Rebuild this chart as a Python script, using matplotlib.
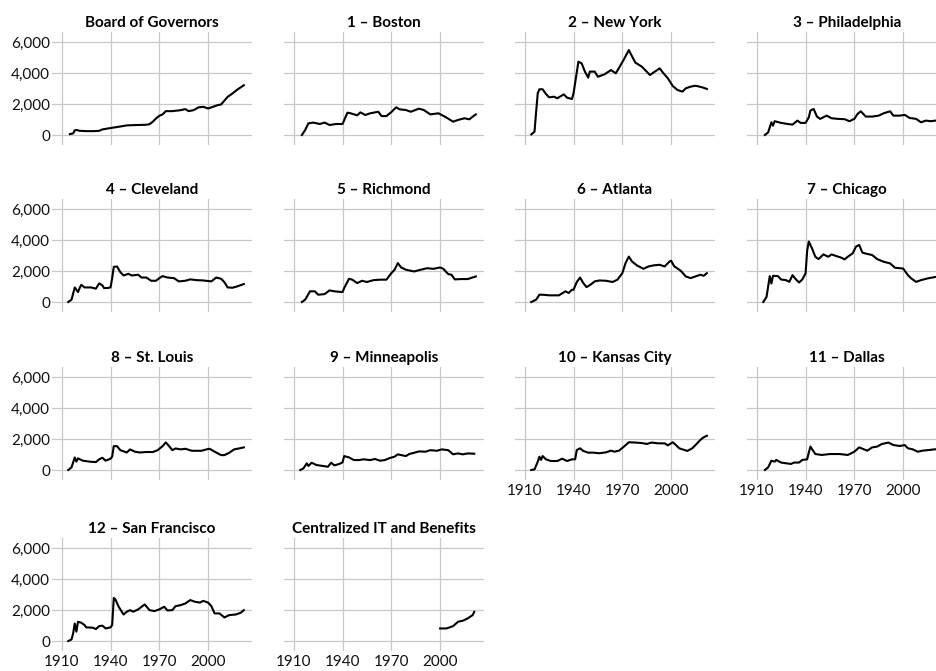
import matplotlib
matplotlib.use("Agg")
import matplotlib.pyplot as plt


# Federal Reserve employment by entity
BOARD_YEARS = [1915, 1917, 1918, 1919, 1921, 1925, 1930, 1933, 1935, 1940, 1945, 1950, 1955, 1962, 1964, 1966, 1968, 1970,
               1972, 1974, 1978, 1983, 1986, 1988, 1991, 1994, 1997, 2000, 2003, 2006, 2008, 2012, 2015, 2018, 2022]
BOARD_VALUES = [60, 100, 300, 330, 270, 250, 250, 270, 360, 450, 530, 620, 640, 660, 700, 860, 1070, 1240,
                1330, 1540, 1540, 1600, 1670, 1540, 1600, 1780, 1820, 1710, 1820, 1930, 1970, 2460, 2680, 2930, 3210]

BOSTON_YEARS = [1915, 1917, 1919, 1922, 1926, 1929, 1932, 1936, 1940, 1943, 1945, 1949, 1951, 1954, 1957, 1962, 1964,
                1967, 1970, 1973, 1975, 1979, 1982, 1987, 1990, 1994, 1999, 2003, 2008, 2011, 2015, 2018, 2020, 2022]
BOSTON_VALUES = [0, 320, 750, 800, 710, 800, 645, 710, 710, 1440, 1400, 1270, 1460, 1290, 1400, 1500, 1220,
                 1220, 1480, 1790, 1660, 1610, 1500, 1700, 1610, 1330, 1400, 1180, 860, 970, 1080, 1010, 1180, 1330]

NEW_YORK_YEARS = [1914, 1916, 1917, 1918, 1919, 1921, 1923, 1925, 1928, 1930, 1934, 1936, 1939, 1940, 1943, 1945,
                  1947, 1949, 1950, 1953, 1955, 1959, 1963, 1966, 1969, 1971, 1974, 1975, 1978, 1982, 1987, 1990,
                  1993, 1995, 1998, 2001, 2004, 2007, 2009, 2012, 2015, 2019, 2022]
NEW_YORK_VALUES = [40, 210, 1500, 2700, 2950, 2950, 2650, 2430, 2470, 2370, 2620, 2410, 2320, 2690, 4730, 4620,
                   4090, 3700, 4090, 4090, 3760, 3910, 4190, 3980, 4520, 4880, 5480, 5270, 4670, 4410, 3870, 4090,
                   4300, 4020, 3660, 3160, 2900, 2800, 3010, 3120, 3180, 3080, 2970]

PHILADELPHIA_YEARS = [1915, 1917, 1919, 1920, 1921, 1925, 1929, 1932, 1935, 1937, 1940, 1942, 1943, 1945, 1947, 1949,
                      1953, 1956, 1960, 1964, 1967, 1970, 1972, 1974, 1977, 1981, 1985, 1988, 1992, 1994, 1998, 2001,
                      2004, 2008, 2011, 2014, 2017, 2020, 2022]
PHILADELPHIA_VALUES = [0, 170, 820, 600, 890, 780, 710, 670, 930, 780, 780, 1140, 1580, 1680, 1190, 1040,
                       1250, 1080, 1040, 1020, 890, 1040, 1360, 1530, 1190, 1190, 1250, 1400, 1530, 1250, 1250, 1300,
                       1100, 1040, 820, 930, 890, 930, 900]

CLEVELAND_YEARS = [1914, 1916, 1918, 1920, 1921, 1922, 1924, 1928, 1931, 1933, 1935, 1936, 1938, 1940, 1941, 1942,
                   1944, 1946, 1948, 1951, 1953, 1957, 1959, 1962, 1965, 1968, 1970, 1972, 1975, 1979, 1982, 1986,
                   1989, 1993, 1997, 2002, 2005, 2008, 2010, 2012, 2015, 2018, 2022]
CLEVELAND_VALUES = [0, 150, 940, 640, 900, 1110, 940, 940, 860, 1200, 1070, 900, 900, 940, 1540, 2270,
                    2290, 1930, 1710, 1820, 1710, 1760, 1580, 1580, 1370, 1370, 1540, 1670, 1580, 1540, 1330, 1370,
                    1460, 1410, 1390, 1330, 1580, 1500, 1280, 940, 920, 1010, 1160]

RICHMOND_YEARS = [1915, 1917, 1920, 1923, 1925, 1929, 1932, 1935, 1940, 1941, 1944, 1946, 1949, 1952, 1955, 1959,
                  1963, 1967, 1970, 1972, 1974, 1976, 1979, 1984, 1988, 1992, 1996, 2000, 2002, 2005, 2007, 2009,
                  2013, 2017, 2022]
RICHMOND_VALUES = [0, 150, 690, 690, 470, 510, 750, 690, 640, 900, 1500, 1440, 1220, 1370, 1290, 1410,
                   1440, 1440, 1860, 2080, 2510, 2230, 2080, 1970, 2080, 2180, 2140, 2230, 2140, 1800, 1760, 1460,
                   1480, 1480, 1650]

ATLANTA_YEARS = [1914, 1917, 1919, 1921, 1925, 1931, 1935, 1937, 1939, 1940, 1942, 1944, 1946, 1948, 1951, 1953,
                 1956, 1960, 1964, 1967, 1970, 1972, 1974, 1976, 1979, 1983, 1986, 1989, 1993, 1996, 1999, 2000,
                 2002, 2003, 2006, 2009, 2012, 2015, 2018, 2020, 2022]
ATLANTA_VALUES = [0, 150, 470, 470, 430, 430, 690, 580, 790, 790, 1290, 1580, 1220, 960, 1160, 1330,
                  1390, 1370, 1290, 1440, 1860, 2510, 2930, 2610, 2360, 2140, 2290, 2360, 2400, 2290, 2610, 2660,
                  2290, 2230, 2010, 1650, 1540, 1650, 1760, 1690, 1860]

CHICAGO_YEARS = [1914, 1916, 1918, 1919, 1920, 1923, 1925, 1928, 1930, 1932, 1934, 1936, 1938, 1940, 1941, 1942,
                 1944, 1946, 1948, 1951, 1954, 1956, 1959, 1962, 1964, 1966, 1969, 1971, 1973, 1975, 1978, 1981,
                 1984, 1988, 1992, 1995, 2000, 2003, 2005, 2008, 2011, 2015, 2020, 2022]
CHICAGO_VALUES = [0, 320, 1670, 1190, 1690, 1670, 1450, 1410, 1300, 1730, 1470, 1260, 1450, 1840, 3310, 3900,
                  3460, 2920, 2770, 3070, 2920, 3070, 2960, 2860, 2750, 2920, 3140, 3570, 3680, 3180, 3100, 3030,
                  2770, 2600, 2490, 2210, 2160, 1730, 1520, 1300, 1410, 1520, 1620, 1650]

ST_LOUIS_YEARS = [1914, 1916, 1918, 1919, 1920, 1923, 1927, 1931, 1933, 1935, 1937, 1940, 1941, 1942, 1944, 1946,
                  1950, 1952, 1955, 1958, 1962, 1966, 1969, 1972, 1974, 1976, 1978, 1980, 1983, 1986, 1990, 1992,
                  1996, 1999, 2001, 2003, 2006, 2008, 2010, 2013, 2016, 2019, 2022]
ST_LOUIS_VALUES = [0, 170, 810, 540, 750, 600, 540, 510, 690, 790, 600, 730, 860, 1540, 1540, 1280,
                   1130, 1330, 1180, 1130, 1160, 1160, 1280, 1540, 1780, 1540, 1280, 1390, 1330, 1370, 1240, 1240,
                   1240, 1330, 1370, 1240, 1070, 960, 960, 1110, 1330, 1390, 1460]

MINNEAPOLIS_YEARS = [1914, 1916, 1918, 1919, 1921, 1924, 1928, 1931, 1933, 1935, 1938, 1940, 1941, 1944, 1947, 1950,
                     1953, 1957, 1960, 1963, 1966, 1969, 1972, 1974, 1977, 1979, 1981, 1984, 1987, 1991, 1994, 1998,
                     2001, 2005, 2008, 2011, 2014, 2017, 2021]
MINNEAPOLIS_VALUES = [0, 110, 430, 260, 470, 320, 260, 210, 470, 300, 390, 490, 900, 810, 640, 640,
                      690, 640, 710, 600, 640, 770, 860, 1010, 940, 900, 1030, 1110, 1200, 1180, 1280, 1240,
                      1330, 1280, 1010, 1070, 1010, 1070, 1050]

KANSAS_CITY_YEARS = [1914, 1916, 1918, 1919, 1920, 1921, 1923, 1926, 1930, 1933, 1936, 1939, 1941, 1942, 1944, 1946,
                     1949, 1952, 1956, 1960, 1963, 1965, 1968, 1971, 1974, 1978, 1982, 1985, 1988, 1992, 1996, 1998,
                     2001, 2003, 2005, 2007, 2010, 2013, 2015, 2018, 2020, 2022]
KANSAS_CITY_VALUES = [0, 40, 540, 860, 650, 900, 690, 580, 580, 730, 580, 690, 690, 1290, 1400, 1230,
                      1120, 1120, 1080, 1140, 1250, 1180, 1250, 1510, 1790, 1770, 1740, 1680, 1770, 1720, 1720, 1590,
                      1790, 1610, 1400, 1330, 1230, 1400, 1610, 1940, 2110, 2210]

DALLAS_YEARS = [1915, 1917, 1919, 1921, 1922, 1925, 1931, 1933, 1936, 1938, 1941, 1942, 1943, 1946, 1950, 1955,
                1961, 1966, 1970, 1973, 1976, 1978, 1981, 1984, 1987, 1991, 1994, 1998, 2001, 2003, 2006, 2009,
                2012, 2016, 2019, 2022]
DALLAS_VALUES = [0, 170, 600, 540, 650, 480, 390, 480, 480, 650, 690, 1120, 1510, 1030, 970, 1030,
                 1030, 970, 1180, 1460, 1330, 1250, 1460, 1510, 1680, 1770, 1610, 1550, 1610, 1400, 1330, 1180,
                 1250, 1290, 1330, 1350]

SAN_FRANCISCO_YEARS = [1914, 1916, 1917, 1918, 1919, 1920, 1922, 1924, 1925, 1929, 1931, 1933, 1935, 1937, 1940, 1941,
                       1942, 1943, 1945, 1948, 1950, 1952, 1954, 1957, 1961, 1964, 1967, 1970, 1973, 1975, 1978, 1980,
                       1983, 1986, 1989, 1992, 1995, 1997, 2000, 2002, 2004, 2007, 2010, 2013, 2017, 2020, 2022]
SAN_FRANCISCO_VALUES = [0, 100, 490, 1130, 600, 1240, 1180, 1030, 880, 860, 770, 960, 990, 810, 880, 1030,
                        2780, 2680, 2210, 1710, 1890, 1990, 1890, 2040, 2360, 1990, 1930, 2040, 2210, 1970, 1990, 2250,
                        2310, 2420, 2640, 2530, 2480, 2590, 2480, 2250, 1780, 1780, 1520, 1670, 1710, 1820, 1990]

CENTRAL_IT_YEARS = [2000, 2004, 2008, 2011, 2014, 2017, 2020, 2021]
CENTRAL_IT_VALUES = [810, 810, 960, 1240, 1310, 1460, 1670, 1880]

TITLES = [
    "Board of Governors", "1 \u2013 Boston", "2 \u2013 New York", "3 \u2013 Philadelphia",
    "4 \u2013 Cleveland", "5 \u2013 Richmond", "6 \u2013 Atlanta", "7 \u2013 Chicago",
    "8 \u2013 St. Louis", "9 \u2013 Minneapolis", "10 \u2013 Kansas City", "11 \u2013 Dallas",
    "12 \u2013 San Francisco", "Centralized IT and Benefits",
]

X_TICKS = [1910, 1940, 1970, 2000]
X_TICK_LABELS = ["1910", "1940", "1970", "2000"]
Y_TICKS = [0, 2000, 4000, 6000]
Y_TICK_LABELS = ["0", "2,000", "4,000", "6,000"]

# panels that carry x tick labels (bottom of each column)
X_LABELLED = {"10 \u2013 Kansas City", "11 \u2013 Dallas", "12 \u2013 San Francisco", "Centralized IT and Benefits"}

# layout in pixels
FIG_W, FIG_H = 936, 671
COL_LEFT = [52, 284, 515, 747]
ROW_TOP = [32, 199, 367, 538]
PANEL_W, PANEL_H = 200, 113

plt.rcParams["font.family"] = ["Lato", "DejaVu Sans"]


def make_figure():
    series = [
        (BOARD_YEARS, BOARD_VALUES),
        (BOSTON_YEARS, BOSTON_VALUES),
        (NEW_YORK_YEARS, NEW_YORK_VALUES),
        (PHILADELPHIA_YEARS, PHILADELPHIA_VALUES),
        (CLEVELAND_YEARS, CLEVELAND_VALUES),
        (RICHMOND_YEARS, RICHMOND_VALUES),
        (ATLANTA_YEARS, ATLANTA_VALUES),
        (CHICAGO_YEARS, CHICAGO_VALUES),
        (ST_LOUIS_YEARS, ST_LOUIS_VALUES),
        (MINNEAPOLIS_YEARS, MINNEAPOLIS_VALUES),
        (KANSAS_CITY_YEARS, KANSAS_CITY_VALUES),
        (DALLAS_YEARS, DALLAS_VALUES),
        (SAN_FRANCISCO_YEARS, SAN_FRANCISCO_VALUES),
        (CENTRAL_IT_YEARS, CENTRAL_IT_VALUES),
    ]

    fig = plt.figure(figsize=(FIG_W / 100, FIG_H / 100), dpi=100)

    for i, (title, (years, values)) in enumerate(zip(TITLES, series)):
        row, col = divmod(i, 4)
        left = COL_LEFT[col] / FIG_W
        bottom = 1 - (ROW_TOP[row] + PANEL_H) / FIG_H
        ax = fig.add_axes([left, bottom, PANEL_W / FIG_W, PANEL_H / FIG_H])

        ax.plot(years, values, color="black", linewidth=1.5, solid_joinstyle="round")

        ax.set_xlim(1904, 2027)
        ax.set_ylim(-645, 6645)
        ax.set_xticks(X_TICKS)
        ax.set_yticks(Y_TICKS)
        ax.set_xticklabels(X_TICK_LABELS)
        ax.set_yticklabels(Y_TICK_LABELS)
        ax.grid(True, color="#c8c8c8", linewidth=0.9)
        ax.set_axisbelow(True)
        for spine in ax.spines.values():
            spine.set_visible(False)

        ax.tick_params(
            length=0,
            labelsize=11,
            labelcolor="#111111",
            labelleft=(col == 0),
            labelbottom=(title in X_LABELLED),
        )
        ax.tick_params(axis="y", pad=1.5)
        ax.tick_params(axis="x", pad=3)
        ax.set_title(title, fontsize=11, fontweight="bold", pad=3.5)

    fig.savefig("out.png", dpi=100)
    plt.close(fig)


if __name__ == "__main__":
    make_figure()
